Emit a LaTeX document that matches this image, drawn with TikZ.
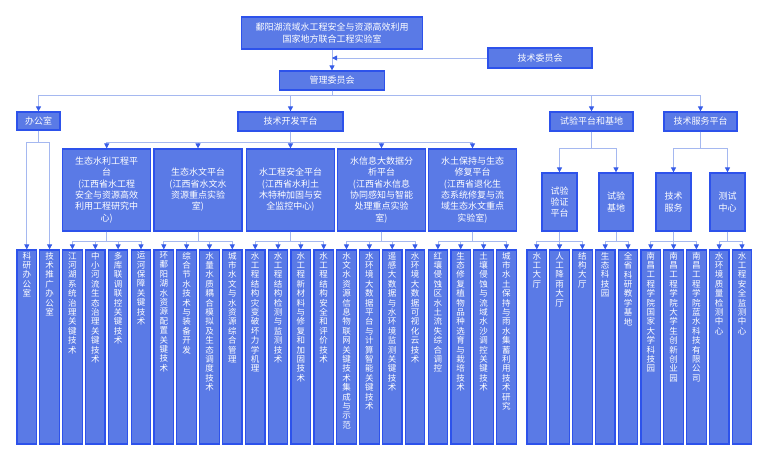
\documentclass[tikz,border=0pt]{standalone}
\usepackage{fontspec}
\newfontfamily\cjk{Noto Sans CJK SC}
\usetikzlibrary{arrows.meta}
\XeTeXlinebreaklocale "zh"
\XeTeXlinebreakskip=0pt plus 1pt
\definecolor{boxfill}{RGB}{90,122,230}
\definecolor{boxline}{RGB}{45,82,235}
\definecolor{linkcol}{RGB}{165,184,240}
\definecolor{tipcol}{RGB}{55,92,232}
\newcommand{\leaftext}[1]{\parbox[c][190pt][t]{10pt}{\centering #1}}

\begin{document}
\begin{tikzpicture}[x=1pt,y=-1pt]
	\useasboundingbox (0,0) rectangle (770,462);
	\begin{scope}[every node/.style = {draw=boxline, fill=boxfill, text=white,
		line width=1.2pt, inner sep=0pt, align=center,
		font=\cjk\fontsize{9}{11.3}\selectfont}]
		\node[minimum width=181pt,minimum height=32pt] (Lab) at (332,33) {鄱阳湖流域水工程安全与资源高效利用\\国家地方联合工程实验室};
		\node[minimum width=104pt,minimum height=20pt] (TC) at (540,58) {技术委员会};
		\node[minimum width=105pt,minimum height=19pt] (MC) at (332,80.5) {管理委员会};
		\node[minimum width=43pt,minimum height=18pt] (Off) at (38.5,121) {办公室};
		\node[minimum width=105pt,minimum height=19pt] (Dev) at (290.5,121.5) {技术开发平台};
		\node[minimum width=83pt,minimum height=19pt] (Test) at (591.5,121.5) {试验平台和基地};
		\node[minimum width=73pt,minimum height=19pt] (Serv) at (700.5,121.5) {技术服务平台};
		\node[minimum width=88pt,minimum height=82pt] (P1) at (106.7,190) {生态水利工程平\\台\\(江西省水工程\\安全与资源高效\\利用工程研究中\\心)};
		\node[minimum width=88pt,minimum height=82pt] (P2) at (198,190) {生态水文平台\\(江西省水文水\\资源重点实验\\室)};
		\node[minimum width=88pt,minimum height=82pt] (P3) at (290.5,190) {水工程安全平台\\(江西省水利土\\木特种加固与安\\全监控中心)};
		\node[minimum width=88pt,minimum height=82pt] (P4) at (381.5,190) {水信息大数据分\\析平台\\(江西省水信息\\协同感知与智能\\处理重点实验\\室)};
		\node[minimum width=88pt,minimum height=82pt] (P5) at (472.5,190) {水土保持与生态\\修复平台\\(江西省退化生\\态系统修复与流\\域生态水文重点\\实验室)};
		\node[minimum width=35pt,minimum height=58pt] (T1) at (559.5,202) {试验\\验证\\平台};
		\node[minimum width=34pt,minimum height=58pt] (T2) at (616,202) {试验\\基地};
		\node[minimum width=35pt,minimum height=58pt] (S1) at (673.5,202) {技术\\服务};
		\node[minimum width=35pt,minimum height=58pt] (S2) at (727.5,202) {测试\\中心};
	\end{scope}
	\begin{scope}[every node/.style = {draw=boxline, fill=boxfill, text=white,
		line width=1.2pt, inner xsep=0pt, inner ysep=2pt, minimum width=19.5pt,
		font=\cjk\fontsize{8.5}{9.4}\selectfont}]
		\node (L1) at (26.8,347) {\leaftext{科研办公室}};
		\node (L2) at (49.6,347) {\leaftext{技术推广办公室}};
		\node (L3) at (72.4,347) {\leaftext{江河湖系统治理关键技术}};
		\node (L4) at (95.3,347) {\leaftext{中小河流生态治理关键技术}};
		\node (L5) at (118.1,347) {\leaftext{多库联调联控关键技术}};
		\node (L6) at (141,347) {\leaftext{运河保障关键技术}};
		\node (L7) at (163.8,347) {\leaftext{环鄱阳湖水资源配置关键技术}};
		\node (L8) at (186.6,347) {\leaftext{综合节水技术与装备开发}};
		\node (L9) at (209.5,347) {\leaftext{水量水质耦合模拟及生态调度技术}};
		\node (L10) at (232.3,347) {\leaftext{城市水文与水资源综合管理}};
		\node (L11) at (255.2,347) {\leaftext{水工程结构灾变破坏力学机理}};
		\node (L12) at (278,347) {\leaftext{水工程结构检测与监测技术}};
		\node (L13) at (300.8,347) {\leaftext{水工程新材料与修复和加固技术}};
		\node (L14) at (323.7,347) {\leaftext{水工程结构安全和评价技术}};
		\node (L15) at (346.5,347) {\leaftext{水文水资源信息物联网关键技术集成与示范}};
		\node (L16) at (369.4,347) {\leaftext{水环境大数据平台与计算智能关键技术}};
		\node (L17) at (392.2,347) {\leaftext{遥感大数据与水环境监测关键技术}};
		\node (L18) at (415,347) {\leaftext{水环境大数据可视化云技术}};
		\node (L19) at (437.9,347) {\leaftext{红壤侵蚀区水土流失综合调控}};
		\node (L20) at (460.7,347) {\leaftext{生态修复植物品种选育与栽培技术}};
		\node (L21) at (483.6,347) {\leaftext{土壤侵蚀与流域水沙调控关键技术}};
		\node (L22) at (506.4,347) {\leaftext{城市水土保持与雨水集蓄利用技术研究}};
		\node (L23) at (536.8,347) {\leaftext{水工大厅}};
		\node (L24) at (559.6,347) {\leaftext{人工降雨大厅}};
		\node (L25) at (582.4,347) {\leaftext{结构大厅}};
		\node (L26) at (605.2,347) {\leaftext{生态科技园}};
		\node (L27) at (628,347) {\leaftext{全省科研教学基地}};
		\node (L28) at (650.8,347) {\leaftext{南昌工程学院国家大学科技园}};
		\node (L29) at (673.6,347) {\leaftext{南昌工程学院大学生创新创业园}};
		\node (L30) at (696.4,347) {\leaftext{南昌工程学院蓝水科技有限公司}};
		\node (L31) at (719.2,347) {\leaftext{水环境质量检测中心}};
		\node (L32) at (742,347) {\leaftext{水工程安全监测中心}};
	\end{scope}
	\begin{scope}[>={Triangle[tipcol,width=5pt,length=5pt]},
			color=linkcol, line width=0.8pt]
		\draw [->] (Lab) -- (MC);
		\draw [->] (TC) -- (TC -| Lab);
		\draw [->] (MC.south) -- ++(0,5) -| (Off.north);
		\draw [->] (MC.south) -- ++(0,5) -| (Dev.north);
		\draw [->] (MC.south) -- ++(0,5) -| (Test.north);
		\draw [->] (MC.south) -- ++(0,5) -| (Serv.north);
		\draw [->] (Dev.south) -- ++(0,11) -| (P1.north);
		\draw [->] (Dev.south) -- ++(0,11) -| (P2.north);
		\draw [->] (Dev.south) -- ++(0,11) -| (P3.north);
		\draw [->] (Dev.south) -- ++(0,11) -| (P4.north);
		\draw [->] (Dev.south) -- ++(0,11) -| (P5.north);
		\draw [->] (Test.south) -- ++(0,17) -| (T1.north);
		\draw [->] (Test.south) -- ++(0,17) -| (T2.north);
		\draw [->] (Serv.south) -- ++(0,17) -| (S1.north);
		\draw [->] (Serv.south) -- ++(0,17) -| (S2.north);
		\draw [->] (Off.south) -- ++(0,12) -| (L1.north);
		\draw [->] (Off.south) -- ++(0,12) -| (L2.north);
		\draw [->] (P1.south) -- ++(0,10) -| (L3.north);
		\draw [->] (P1.south) -- ++(0,10) -| (L4.north);
		\draw [->] (P1.south) -- ++(0,10) -| (L5.north);
		\draw [->] (P1.south) -- ++(0,10) -| (L6.north);
		\draw [->] (P2.south) -- ++(0,10) -| (L7.north);
		\draw [->] (P2.south) -- ++(0,10) -| (L8.north);
		\draw [->] (P2.south) -- ++(0,10) -| (L9.north);
		\draw [->] (P2.south) -- ++(0,10) -| (L10.north);
		\draw [->] (P3.south) -- ++(0,10) -| (L11.north);
		\draw [->] (P3.south) -- ++(0,10) -| (L12.north);
		\draw [->] (P3.south) -- ++(0,10) -| (L13.north);
		\draw [->] (P3.south) -- ++(0,10) -| (L14.north);
		\draw [->] (P4.south) -- ++(0,10) -| (L15.north);
		\draw [->] (P4.south) -- ++(0,10) -| (L16.north);
		\draw [->] (P4.south) -- ++(0,10) -| (L17.north);
		\draw [->] (P4.south) -- ++(0,10) -| (L18.north);
		\draw [->] (P5.south) -- ++(0,10) -| (L19.north);
		\draw [->] (P5.south) -- ++(0,10) -| (L20.north);
		\draw [->] (P5.south) -- ++(0,10) -| (L21.north);
		\draw [->] (P5.south) -- ++(0,10) -| (L22.north);
		\draw [->] (T1.south) -- ++(0,10) -| (L23.north);
		\draw [->] (T1.south) -- ++(0,10) -| (L24.north);
		\draw [->] (T1.south) -- ++(0,10) -| (L25.north);
		\draw [->] (T2.south) -- ++(0,10) -| (L26.north);
		\draw [->] (T2.south) -- ++(0,10) -| (L27.north);
		\draw [->] (S1.south) -- ++(0,10) -| (L28.north);
		\draw [->] (S1.south) -- ++(0,10) -| (L29.north);
		\draw [->] (S1.south) -- ++(0,10) -| (L30.north);
		\draw [->] (S2.south) -- ++(0,10) -| (L31.north);
		\draw [->] (S2.south) -- ++(0,10) -| (L32.north);
	\end{scope}
\end{tikzpicture}
\end{document}
